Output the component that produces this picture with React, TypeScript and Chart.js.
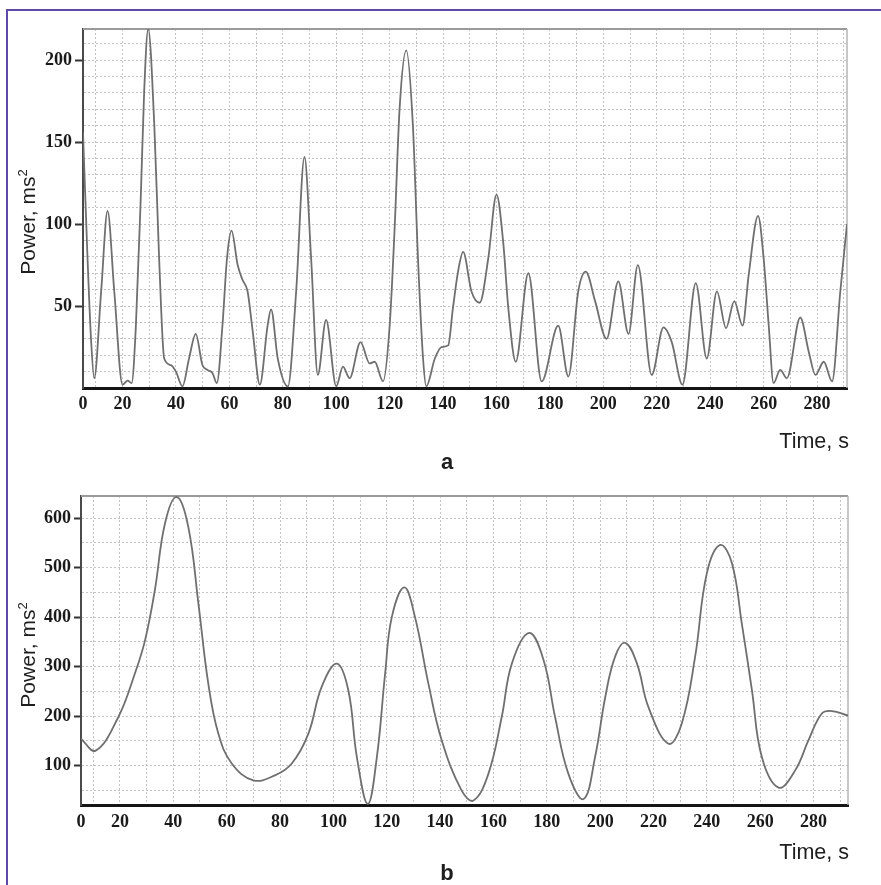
import React, { useEffect, useRef } from "react";
import { Chart, registerables } from "chart.js";

Chart.register(...registerables);

// ---- Panel a: power vs time ----
const timeA = [
  5.2, 6.9, 8.2, 9.4, 12.0, 14.4, 16.9, 20.0, 21.9, 23.4, 25.0, 26.9, 28.1, 29.6,
  31.9, 33.7, 35.6, 38.1, 40.0, 42.4, 44.9, 47.4, 49.9, 51.8, 53.7, 55.3, 57.4,
  59.1, 60.8, 63.1, 64.9, 66.8, 68.7, 71.4, 74.3, 75.6, 78.1, 81.9, 85.0, 88.1,
  90.6, 93.1, 96.2, 100.0, 102.5, 105.0, 109.1, 112.5, 114.4, 117.5, 120.0, 121.9,
  123.7, 126.2, 128.7, 130.6, 132.5, 133.7, 136.9, 139.4, 141.9, 143.7, 145.6,
  147.5, 150.6, 153.7, 156.9, 160.0, 162.5, 164.4, 167.2, 171.9, 176.9, 183.1,
  186.9, 190.6, 193.4, 196.9, 201.2, 205.6, 209.4, 212.9, 218.1, 222.5, 225.6,
  229.6, 234.6, 238.7, 242.5, 245.9, 249.0, 252.1, 254.4, 257.9, 260.0, 261.9,
  263.7, 266.2, 268.7, 273.7, 276.9, 279.4, 282.5, 285.6, 288.7, 291.2,
];
const powerA = [
  156, 79, 30, 6, 59, 108, 59, 2, 4.5, 3, 38, 120, 181, 219,
  160, 79, 18, 14, 10, 1, 18, 33, 14, 11, 9, 3, 38,
  79, 96, 75, 66, 59, 35, 2, 38, 48, 18, 1, 59, 141,
  79, 8, 41.5, 1, 13, 6, 28, 15, 16, 4, 38, 99,
  170, 206, 160, 79, 18, 1, 18, 25, 26, 49, 71,
  83, 59, 52, 79, 118, 89, 49, 16, 70, 4, 38,
  7, 59, 71, 53, 30, 65, 33, 75, 8, 37, 28,
  2, 64, 18, 59, 36.5, 53, 38, 69, 105, 79, 38,
  3, 11, 6, 43, 22, 8, 16, 4, 59, 100,
];

// ---- Panel b: power vs time ----
const timeB = [
  5.4, 10.9, 19.4, 25.6, 29.4, 33.1, 36.9, 41.3, 45.6, 49.4, 53.1, 56.9, 61.9,
  70.0, 78.1, 84.4, 90.6, 95.6, 101.3, 105.6, 108.8, 112.9, 116.3, 119.4, 121.9,
  126.6, 130.6, 135.6, 140.6, 148.1, 152.5, 158.1, 163.1, 166.9, 173.4, 178.8,
  183.1, 188.1, 193.8, 198.1, 201.9, 205.6, 209.4, 213.8, 218.1, 225.6, 230.6,
  235.6, 240.0, 245.0, 249.4, 253.1, 256.9, 260.6, 266.9, 273.1, 278.1, 283.1,
  286.9, 292.9,
];
const powerB = [
  154, 130, 198, 286, 353, 455, 590, 643, 583, 428, 266, 164, 104,
  70, 80, 104, 164, 259, 306, 252, 117, 22, 117, 286, 400,
  460, 400, 266, 151, 49, 29, 83, 198, 306, 368, 313,
  198, 83, 32, 117, 238, 320, 348, 306, 218, 144, 185,
  320, 489, 546, 509, 387, 252, 117, 55, 90, 151, 205,
  210, 201,
];

// ---- Tick labels ----
const xTickLabels = ["0", "20", "40", "60", "80", "100", "120", "140", "160", "180", "200", "220", "240", "260", "280"];
const xLabelValues = [20, 40, 60, 80, 100, 120, 140, 160, 180, 200, 220, 240, 260, 280];
const xGridValues = [10, 20, 30, 40, 50, 60, 70, 80, 90, 100, 110, 120, 130, 140, 150, 160, 170, 180, 190, 200, 210, 220, 230, 240, 250, 260, 270, 280, 290];
const yLabelsA = [50, 100, 150, 200];
const yGridA = [0, 10, 20, 30, 40, 50, 60, 70, 80, 90, 100, 110, 120, 130, 140, 150, 160, 170, 180, 190, 200, 210];
const yLabelsB = [100, 200, 300, 400, 500, 600];
const yGridB = [50, 100, 150, 200, 250, 300, 350, 400, 450, 500, 550, 600];

const GRID = "#c4c4c4";
const NONE = "rgba(0,0,0,0)";
const tickFont = { family: "'Liberation Serif', 'Times New Roman', serif", size: 18, weight: "bold" as const };

const framePlugin = {
  id: "frame",
  beforeDatasetsDraw(chart: any) {
    const { ctx, chartArea } = chart;
    const { left, top, right, bottom } = chartArea;
    ctx.save();
    ctx.strokeStyle = "#9a9a9a";
    ctx.lineWidth = 2;
    ctx.beginPath();
    ctx.moveTo(left, top);
    ctx.lineTo(right, top);
    ctx.stroke();
    ctx.strokeStyle = "#b4b4b4";
    ctx.lineWidth = 1.5;
    ctx.beginPath();
    ctx.moveTo(right, top);
    ctx.lineTo(right, bottom);
    ctx.stroke();
    ctx.restore();
  },
};

type PanelProps = {
  times: number[];
  values: number[];
  xMin: number;
  xMax: number;
  yMin: number;
  yMax: number;
  yGrid: number[];
  yLabels: number[];
  top: number;
  height: number;
  padTop: number;
  padRight: number;
  axisW: number;
  axisH: number;
  tickLen: number;
  xPad: number;
  monotone: boolean;
};

function Panel(p: PanelProps) {
  const ref = useRef<HTMLCanvasElement | null>(null);
  useEffect(() => {
    if (!ref.current) return;
    const data = p.times.map((t, i) => ({ x: t, y: p.values[i] }));
    const chart = new Chart(ref.current, {
      type: "line",
      data: {
        datasets: [
          {
            data,
            borderColor: "#6f6f6f",
            borderWidth: 1.8,
            pointRadius: 0,
            fill: false,
            tension: 0.4,
            cubicInterpolationMode: p.monotone ? "monotone" : "default",
          },
        ],
      },
      options: {
        animation: false,
        responsive: false,
        devicePixelRatio: 1,
        layout: { padding: { top: p.padTop, right: p.padRight, left: 0, bottom: 0 } },
        plugins: { legend: { display: false }, tooltip: { enabled: false } },
        scales: {
          x: {
            type: "linear",
            min: p.xMin,
            max: p.xMax,
            afterFit: (s: any) => {
              s.height = p.axisH;
            },
            afterBuildTicks: (s: any) => {
              s.ticks = [p.xMin, ...xGridValues].map((v) => ({ value: v }));
            },
            grid: {
              color: (c: any) => (c.index === 0 ? NONE : GRID),
              lineWidth: 1,
              drawTicks: false,
            },
            border: { color: "#151515", width: 3, dash: [2, 2] },
            ticks: {
              autoSkip: false,
              maxRotation: 0,
              minRotation: 0,
              padding: p.xPad,
              color: "#1a1a1a",
              font: tickFont,
              callback: (v: any, i: number) => {
                if (i === 0) return xTickLabels[0];
                const idx = xLabelValues.indexOf(Number(v));
                return idx >= 0 ? xTickLabels[idx + 1] : "";
              },
            },
          },
          y: {
            type: "linear",
            min: p.yMin,
            max: p.yMax,
            afterFit: (s: any) => {
              s.width = p.axisW;
            },
            afterBuildTicks: (s: any) => {
              s.ticks = p.yGrid.map((v) => ({ value: v }));
            },
            grid: {
              color: (c: any) => (c.tick && c.tick.value === 0 ? NONE : GRID),
              lineWidth: 1,
              tickColor: (c: any) => (c.tick && p.yLabels.includes(c.tick.value) ? "#333" : NONE),
              tickLength: p.tickLen,
              tickWidth: 2,
              tickBorderDash: [],
            },
            border: { color: "#4a4a4a", width: 2, dash: [2, 2] },
            ticks: {
              autoSkip: false,
              padding: 3,
              color: "#1a1a1a",
              font: tickFont,
              callback: (v: any) => (p.yLabels.includes(Number(v)) ? String(v) : ""),
            },
          },
        },
      },
      plugins: [framePlugin],
    } as any);
    return () => chart.destroy();
  }, []);
  return (
    <canvas
      ref={ref}
      width={881}
      height={p.height}
      style={{ position: "absolute", left: 0, top: p.top, width: 881, height: p.height }}
    />
  );
}

const sans = "'Liberation Sans', Arial, sans-serif";

function YTitle({ cy }: { cy: number }) {
  return (
    <div
      style={{
        position: "absolute",
        left: 27,
        top: cy,
        transform: "translate(-50%, -50%) rotate(-90deg)",
        whiteSpace: "nowrap",
        fontFamily: sans,
        fontSize: 21,
        color: "#1e1e1e",
        lineHeight: 1,
      }}
    >
      Power, ms<sup style={{ fontSize: 13 }}>2</sup>
    </div>
  );
}

function XTitle({ cy }: { cy: number }) {
  return (
    <div
      style={{
        position: "absolute",
        left: 849,
        top: cy,
        transform: "translate(-100%, -50%)",
        whiteSpace: "nowrap",
        fontFamily: sans,
        fontSize: 21.5,
        color: "#1e1e1e",
        lineHeight: 1,
      }}
    >
      Time, s
    </div>
  );
}

function PanelLetter({ cy, text }: { cy: number; text: string }) {
  return (
    <div
      style={{
        position: "absolute",
        left: 447,
        top: cy,
        transform: "translate(-50%, -50%)",
        fontFamily: sans,
        fontWeight: "bold",
        fontSize: 22,
        color: "#1e1e1e",
        lineHeight: 1,
      }}
    >
      {text}
    </div>
  );
}

export default function App() {
  return (
    <div
      style={{
        position: "absolute",
        left: 0,
        top: 0,
        width: 881,
        height: 885,
        background: "#ffffff",
        overflow: "hidden",
      }}
    >
      <div
        style={{
          position: "absolute",
          left: 6,
          top: 9,
          width: 1000,
          height: 1000,
          borderLeft: "2px solid #5d4aa6",
          borderTop: "2px solid #5d4aa6",
        }}
      />
      <Panel
        times={timeA}
        values={powerA}
        xMin={5.2}
        xMax={291.2}
        yMin={0}
        yMax={219}
        yGrid={yGridA}
        yLabels={yLabelsA}
        top={0}
        height={470}
        padTop={29}
        padRight={34}
        axisW={83}
        axisH={82}
        tickLen={8}
        xPad={6}
        monotone={true}
      />
      <Panel
        times={timeB}
        values={powerB}
        xMin={5.4}
        xMax={292.9}
        yMin={20}
        yMax={645}
        yGrid={yGridB}
        yLabels={yLabelsB}
        top={470}
        height={415}
        padTop={26}
        padRight={33}
        axisW={81}
        axisH={80}
        tickLen={7}
        xPad={7}
        monotone={false}
      />
      <YTitle cy={222} />
      <YTitle cy={655} />
      <XTitle cy={442} />
      <XTitle cy={853} />
      <PanelLetter cy={462} text="a" />
      <PanelLetter cy={873} text="b" />
    </div>
  );
}
